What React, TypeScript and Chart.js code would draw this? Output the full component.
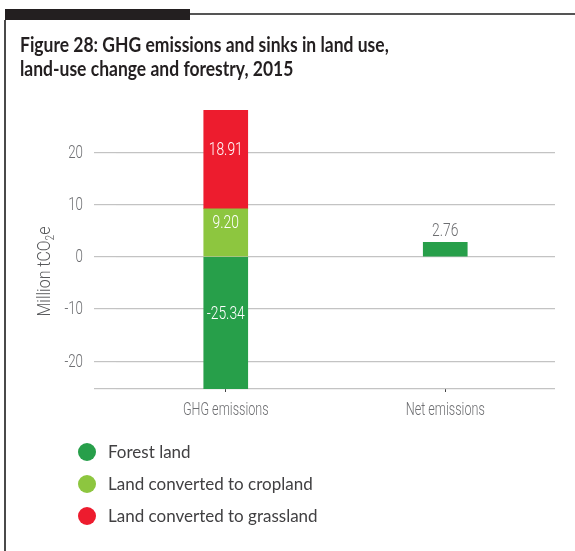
import React, { useEffect, useRef } from "react";
import { Chart, registerables } from "chart.js";

Chart.register(...registerables);

const categories = ["GHG emissions", "Net emissions"];
const forestLand = [-25.34, 2.76];
const croplandConv = [9.2, null];
const grasslandConv = [18.91, null];
const seriesNames = ["Forest land", "Land converted to cropland", "Land converted to grassland"];
const seriesColors = ["#279f4a", "#8dc63f", "#ed1c2e"];
const yTickValues = [-20, -10, 0, 10, 20];
const titleLines = ["Figure 28: GHG emissions and sinks in land use,", "land-use change and forestry, 2015"];

const COND = 'Roboto, "DejaVu Sans Condensed", sans-serif';
const SANS = 'Lato, "Open Sans", sans-serif';

function condText(ctx: any, text: string, x: number, y: number, align: string, size = 18, sx = 0.7) {
  ctx.save();
  ctx.font = `300 ${size}px ${COND}`;
  ctx.translate(x, y);
  ctx.scale(sx, 1);
  ctx.textAlign = align;
  ctx.fillText(text, 0, 0);
  ctx.restore();
}

const axisText = {
  id: "axisText",
  afterDraw(chart: any) {
    const ctx = chart.ctx;
    const ca = chart.chartArea;
    const ys = chart.scales.y;
    const xs = chart.scales.x;
    ctx.save();
    ctx.fillStyle = "#6d6e71";
    ctx.textBaseline = "middle";
    yTickValues.forEach((v) => {
      condText(ctx, String(v), 83, ys.getPixelForValue(v) + 1, "right", 18, 0.74);
    });
    ctx.textBaseline = "alphabetic";
    categories.forEach((c, i) => {
      condText(ctx, c, xs.getPixelForValue(i), ca.bottom + 26, "center", 18, 0.7);
    });
    // y axis title with subscript
    const SX = 0.84;
    ctx.fillStyle = "#58595b";
    const a = "Million tCO";
    const b = "2";
    const e = "e";
    ctx.font = `300 19px ${COND}`;
    const wa = ctx.measureText(a).width;
    const we = ctx.measureText(e).width;
    ctx.font = `300 12px ${COND}`;
    const wb = ctx.measureText(b).width;
    const W = wa + wb + we;
    ctx.translate(50, (ca.top + ca.bottom) / 2 + 22);
    ctx.rotate(-Math.PI / 2);
    ctx.scale(SX, 1);
    let x = -W / 2;
    ctx.textAlign = "left";
    ctx.font = `300 19px ${COND}`;
    ctx.fillText(a, x, 0);
    x += wa;
    ctx.font = `300 12px ${COND}`;
    ctx.fillText(b, x, 4);
    x += wb;
    ctx.font = `300 19px ${COND}`;
    ctx.fillText(e, x, 0);
    ctx.restore();
  },
};

const valueLabels = {
  id: "valueLabels",
  afterDatasetsDraw(chart: any) {
    const ctx = chart.ctx;
    ctx.save();
    ctx.textBaseline = "alphabetic";
    chart.data.datasets.forEach((ds: any, i: number) => {
      const meta = chart.getDatasetMeta(i);
      meta.data.forEach((bar: any, j: number) => {
        const v = ds.data[j];
        if (v == null) return;
        const p = bar.getProps(["x", "y", "base"], true);
        const h = Math.abs(p.base - p.y);
        const txt = v.toFixed(2);
        if (h > 30) {
          ctx.fillStyle = "#ffffff";
          condText(ctx, txt, p.x, (p.y + p.base) / 2 - 4, "center", 18, 0.77);
        } else {
          ctx.fillStyle = "#6d6e71";
          condText(ctx, txt, p.x, Math.min(p.y, p.base) - 6, "center", 18, 0.77);
        }
      });
    });
    ctx.restore();
  },
};

const customLegend = {
  id: "customLegend",
  afterDraw(chart: any) {
    const ctx = chart.ctx;
    ctx.save();
    ctx.font = `17px ${SANS}`;
    ctx.textBaseline = "middle";
    ctx.textAlign = "left";
    chart.data.datasets.forEach((ds: any, i: number) => {
      const cy = 452 + i * 32;
      ctx.fillStyle = ds.backgroundColor;
      ctx.beginPath();
      ctx.arc(87, cy, 9, 0, Math.PI * 2);
      ctx.fill();
      ctx.fillStyle = "#414042";
      ctx.fillText(ds.label, 108, cy + 1);
    });
    ctx.restore();
  },
};

export default function App() {
  const ref = useRef<HTMLCanvasElement | null>(null);
  useEffect(() => {
    document.body.style.margin = "0";
    const yMin = Math.min(forestLand[0] as number, 0);
    const yMax = (croplandConv[0] as number) + (grasslandConv[0] as number);
    const chart = new Chart(ref.current as HTMLCanvasElement, {
      type: "bar",
      data: {
        labels: categories,
        datasets: [
          { label: seriesNames[0], data: forestLand, backgroundColor: seriesColors[0] },
          { label: seriesNames[1], data: croplandConv, backgroundColor: seriesColors[1] },
          { label: seriesNames[2], data: grasslandConv, backgroundColor: seriesColors[2] },
        ],
      },
      options: {
        responsive: false,
        animation: false,
        devicePixelRatio: 1,
        layout: { padding: { left: 0, right: 20, top: 110, bottom: 132 } },
        datasets: { bar: { barThickness: 44 } },
        plugins: {
          legend: { display: false },
          tooltip: { enabled: false },
          title: { display: false },
        },
        scales: {
          x: {
            stacked: true,
            afterFit: (s: any) => {
              s.height = 30;
            },
            border: { display: false },
            grid: {
              offset: false,
              drawOnChartArea: false,
              drawTicks: true,
              tickLength: 3,
              color: "#444",
            },
            ticks: { display: false },
          },
          y: {
            stacked: true,
            min: yMin,
            max: yMax,
            afterFit: (s: any) => {
              s.width = 116;
            },
            afterBuildTicks: (s: any) => {
              s.ticks = [yMin, ...yTickValues].map((v) => ({ value: v }));
            },
            border: { display: false },
            grid: {
              color: "#c3c3c3",
              lineWidth: 1.2,
              drawTicks: true,
              tickLength: 22,
            },
            ticks: { display: false },
          },
        },
      },
      plugins: [valueLabels, axisText, customLegend],
    });
    return () => chart.destroy();
  }, []);

  return (
    <div style={{ position: "relative", width: 575, height: 551, background: "#fff", overflow: "hidden" }}>
      <canvas ref={ref} width={575} height={551} style={{ position: "absolute", left: 0, top: 0 }} />
      <div style={{ position: "absolute", left: 5, top: 9, width: 185, height: 11, background: "#231f20" }} />
      <div style={{ position: "absolute", left: 190, top: 13, width: 385, height: 2, background: "#555" }} />
      <div style={{ position: "absolute", left: 4, top: 20, width: 2, height: 531, background: "#4a4a4a" }} />
      <div
        style={{
          position: "absolute",
          left: 20,
          top: 32,
          font: `bold 20px ${SANS}`,
          lineHeight: "24px",
          color: "#231f20",
          whiteSpace: "nowrap",
          transform: "scaleX(0.875)",
          transformOrigin: "left top",
        }}
      >
        {titleLines.map((t) => (
          <div key={t}>{t}</div>
        ))}
      </div>
    </div>
  );
}
